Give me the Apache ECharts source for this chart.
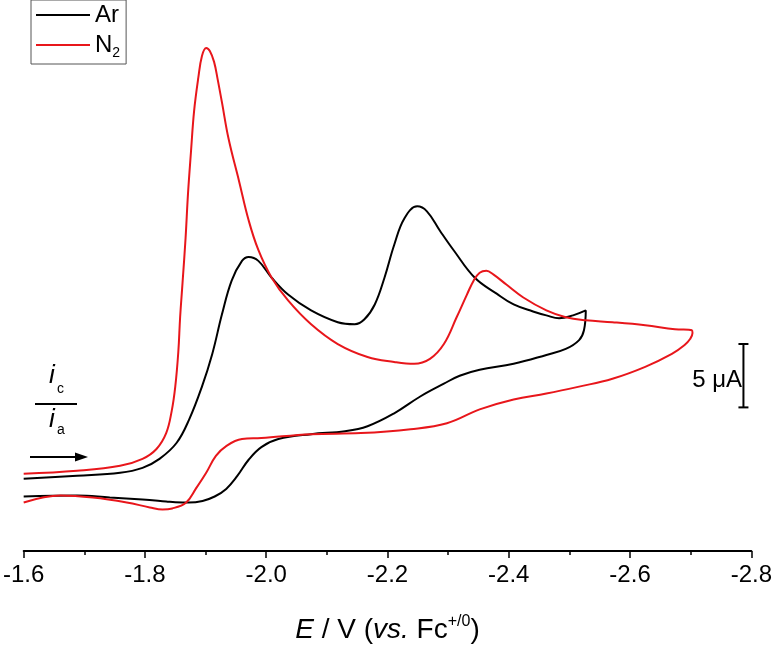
<!DOCTYPE html>
<html><head><meta charset="utf-8">
<script src="https://cdn.jsdelivr.net/npm/echarts@6/dist/echarts.min.js"></script>
<style>html,body{margin:0;padding:0;background:#fff}#c{width:775px;height:649px}</style>
</head><body><div id="c"></div>
<script>
// ---- data (potential in V vs Fc+/0, current in µA, arbitrary offset) ----
const xTicks = [-1.6, -1.8, -2.0, -2.2, -2.4, -2.6, -2.8];

const arE = [-1.600,-1.688,-1.759,-1.796,-1.824,-1.852,-1.873,-1.894,-1.911,-1.927,-1.943,-1.960,-1.971,-1.987,-2.009,-2.036,-2.074,-2.118,-2.146,-2.162,-2.179,-2.195,-2.211,-2.228,-2.249,-2.265,-2.287,-2.310,-2.344,-2.380,-2.408,-2.440,-2.462,-2.483,-2.506,-2.527,
  -2.524,-2.516,-2.494,-2.462,-2.408,-2.352,-2.319,-2.293,-2.254,-2.211,-2.167,-2.130,-2.074,-2.020,-1.992,-1.971,-1.952,-1.934,-1.915,-1.895,-1.872,-1.850,-1.835,-1.796,-1.742,-1.688,-1.600];
const arI = [5.70,5.94,6.17,6.56,7.27,8.52,10.39,12.97,15.55,18.67,21.33,22.89,23.20,22.89,21.56,20.23,18.98,18.05,17.89,18.28,19.45,21.56,24.14,26.25,27.19,26.80,25.23,23.67,21.56,20.30,19.45,18.90,18.59,18.36,18.59,18.98,
  17.42,16.64,15.94,15.47,14.77,14.30,13.83,13.20,12.19,10.86,9.84,9.45,9.22,8.83,8.20,7.20,5.90,4.90,4.30,3.95,3.82,3.85,3.91,4.06,4.22,4.38,4.30];

const n2E = [-1.600,-1.688,-1.759,-1.796,-1.819,-1.835,-1.844,-1.850,-1.855,-1.858,-1.862,-1.867,-1.871,-1.876,-1.881,-1.888,-1.894,-1.901,-1.907,-1.914,-1.920,-1.927,-1.938,-1.955,-1.971,-1.987,-2.009,-2.036,-2.074,-2.118,-2.167,-2.211,-2.244,-2.270,-2.293,-2.314,-2.331,-2.342,-2.352,-2.363,-2.375,-2.396,-2.424,-2.462,-2.494,-2.527,-2.571,-2.625,-2.674,-2.702,
  -2.703,-2.699,-2.690,-2.669,-2.625,-2.571,-2.516,-2.462,-2.408,-2.352,-2.298,-2.238,-2.156,-2.074,-1.992,-1.960,-1.934,-1.917,-1.901,-1.884,-1.868,-1.845,-1.829,-1.808,-1.770,-1.714,-1.661,-1.600];
const n2I = [6.09,6.33,6.72,7.27,8.05,9.30,11.02,12.97,15.70,18.44,21.17,24.69,28.20,31.56,34.69,37.34,39.06,39.69,39.45,38.59,37.19,35.39,32.50,29.22,26.09,23.75,21.56,19.77,17.89,16.33,15.31,14.92,14.77,15.16,16.33,18.44,20.23,21.33,21.95,22.11,21.80,21.02,20.00,18.98,18.44,18.20,18.05,17.81,17.50,17.42,
  17.20,16.72,16.25,15.55,14.53,13.59,12.97,12.42,11.95,11.17,10.08,9.61,9.30,9.22,8.91,8.83,8.28,7.50,6.17,4.92,3.83,3.36,3.28,3.44,3.83,4.22,4.38,3.83];

const scaleBarE = -2.787;
const scaleBarI = [16.33, 11.33];   // 5 µA
const scaleBarText = '5 μA';

// ---- chart ----
const FONT = "'Liberation Sans', Arial, sans-serif";
const pairs = (xs, ys) => xs.map((x, i) => [x, ys[i]]);

const chart = echarts.init(document.getElementById('c'), null, {renderer: 'canvas'});
chart.setOption({
  animation: false,
  backgroundColor: '#fff',
  grid: {left: 23, right: 18, top: 44, bottom: 93, containLabel: false},
  legend: {
    data: ['Ar', 'N2'],
    orient: 'vertical',
    left: 31, top: 0,
    padding: [0, 6, 4, 5],
    itemGap: 0,
    itemWidth: 54, itemHeight: 2,
    icon: 'rect',
    borderColor: '#555', borderWidth: 1,
    textStyle: {
      fontFamily: FONT, fontSize: 24, color: '#000', lineHeight: 30,
      rich: {
        t: {fontFamily: FONT, fontSize: 24, color: '#000', lineHeight: 30},
        sub: {fontFamily: FONT, fontSize: 14, color: '#000', lineHeight: 12, verticalAlign: 'bottom'}
      }
    },
    formatter: n => n === 'N2' ? '{t|N}{sub|2}' : '{t|' + n + '}'
  },
  xAxis: {
    type: 'value',
    min: -2.8, max: -1.6, interval: 0.2, inverse: true,
    axisLine: {show: true, onZero: false, lineStyle: {color: '#000', width: 2}},
    axisTick: {show: true, inside: false, length: 7, lineStyle: {color: '#000', width: 1.5}},
    minorTick: {show: true, splitNumber: 2, length: 4, lineStyle: {color: '#000', width: 1.5}},
    splitLine: {show: false},
    axisLabel: {
      color: '#000', fontFamily: FONT, fontSize: 24, margin: 12,
      formatter: v => v.toFixed(1),
      showMinLabel: true, showMaxLabel: true
    },
    name: '{it|E}{n| / V (}{it|vs.}{n| Fc}{sup|+/0}{n|)}',
    nameLocation: 'middle', nameGap: 63,
    nameTextStyle: {
      color: '#000', fontFamily: FONT, fontSize: 28,
      rich: {
        it: {fontFamily: FONT, fontSize: 28, fontStyle: 'italic', color: '#000', lineHeight: 32},
        n: {fontFamily: FONT, fontSize: 28, color: '#000', lineHeight: 32},
        sup: {fontFamily: FONT, fontSize: 16, color: '#000', lineHeight: 15, verticalAlign: 'top'}
      }
    }
  },
  yAxis: {type: 'value', min: 0, max: 40, show: false},
  series: [
    {name: 'Ar', type: 'line', data: pairs(arE, arI), showSymbol: false, smooth: 0.4,
     color: '#000', lineStyle: {color: '#000', width: 2}},
    {name: 'N2', type: 'line', data: pairs(n2E, n2I), showSymbol: false, smooth: 0.4,
     color: '#e8161b', lineStyle: {color: '#e8161b', width: 2}},
    {name: 'scale', type: 'line', data: scaleBarI.map(v => [scaleBarE, v]),
     symbol: 'rect', symbolSize: [10, 2], showSymbol: true,
     color: '#000', lineStyle: {color: '#000', width: 2}, itemStyle: {color: '#000'}}
  ],
  graphic: [
    {type: 'text', x: 742, y: 380,
     style: {text: scaleBarText, fill: '#000', font: '24px ' + FONT, align: 'right', verticalAlign: 'middle'}},
    {type: 'text', x: 49, y: 376, style: {text: 'i', fill: '#000', font: 'italic 26px ' + FONT, align: 'left', verticalAlign: 'middle'}},
    {type: 'text', x: 57, y: 389, style: {text: 'c', fill: '#000', font: '14px ' + FONT, align: 'left', verticalAlign: 'middle'}},
    {type: 'line', shape: {x1: 35, y1: 404, x2: 77, y2: 404}, style: {stroke: '#000', lineWidth: 2}},
    {type: 'text', x: 49, y: 420, style: {text: 'i', fill: '#000', font: 'italic 26px ' + FONT, align: 'left', verticalAlign: 'middle'}},
    {type: 'text', x: 57, y: 430, style: {text: 'a', fill: '#000', font: '14px ' + FONT, align: 'left', verticalAlign: 'middle'}},
    {type: 'line', shape: {x1: 30, y1: 457, x2: 78, y2: 457}, style: {stroke: '#000', lineWidth: 2}},
    {type: 'polygon', shape: {points: [[75, 452.5], [88, 457], [75, 461.5]]}, style: {fill: '#000'}}
  ]
});
</script>
</body></html>
